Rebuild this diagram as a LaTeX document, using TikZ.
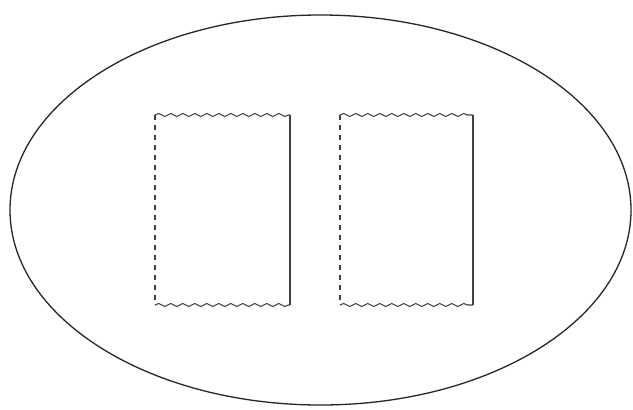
\documentclass[tikz,border=0pt]{standalone}
\usetikzlibrary{decorations.pathmorphing}
\begin{document}
\begin{tikzpicture}[x=1pt,y=-1pt,
  outer/.style={draw=black!85, line width=1.3pt},
  wavy/.style={draw=black!75, line width=1.1pt, decorate, decoration={snake, amplitude=1.5pt, segment length=12pt}},
  dashedge/.style={draw=black!75, line width=1.2pt, dash pattern=on 5pt off 5pt},
  plainedge/.style={draw=black!75, line width=1.2pt}]
\useasboundingbox (0,0) rectangle (633,410);
\draw[outer] (320.5,210) ellipse [x radius=310.5, y radius=195];
% left box
\coordinate (a1) at (155,115); \coordinate (a2) at (290,115);
\coordinate (a3) at (290,305); \coordinate (a4) at (155,305);
\draw[wavy] (a1) -- (a2);
\draw[wavy] (a4) -- (a3);
\draw[dashedge] (a1) -- (a4);
\draw[plainedge] (a2) -- (a3);
% right box
\coordinate (b1) at (340,115); \coordinate (b2) at (473,115);
\coordinate (b3) at (473,305); \coordinate (b4) at (340,305);
\draw[wavy] (b1) -- (b2);
\draw[wavy] (b4) -- (b3);
\draw[dashedge] (b1) -- (b4);
\draw[plainedge] (b2) -- (b3);
\end{tikzpicture}
\end{document}
